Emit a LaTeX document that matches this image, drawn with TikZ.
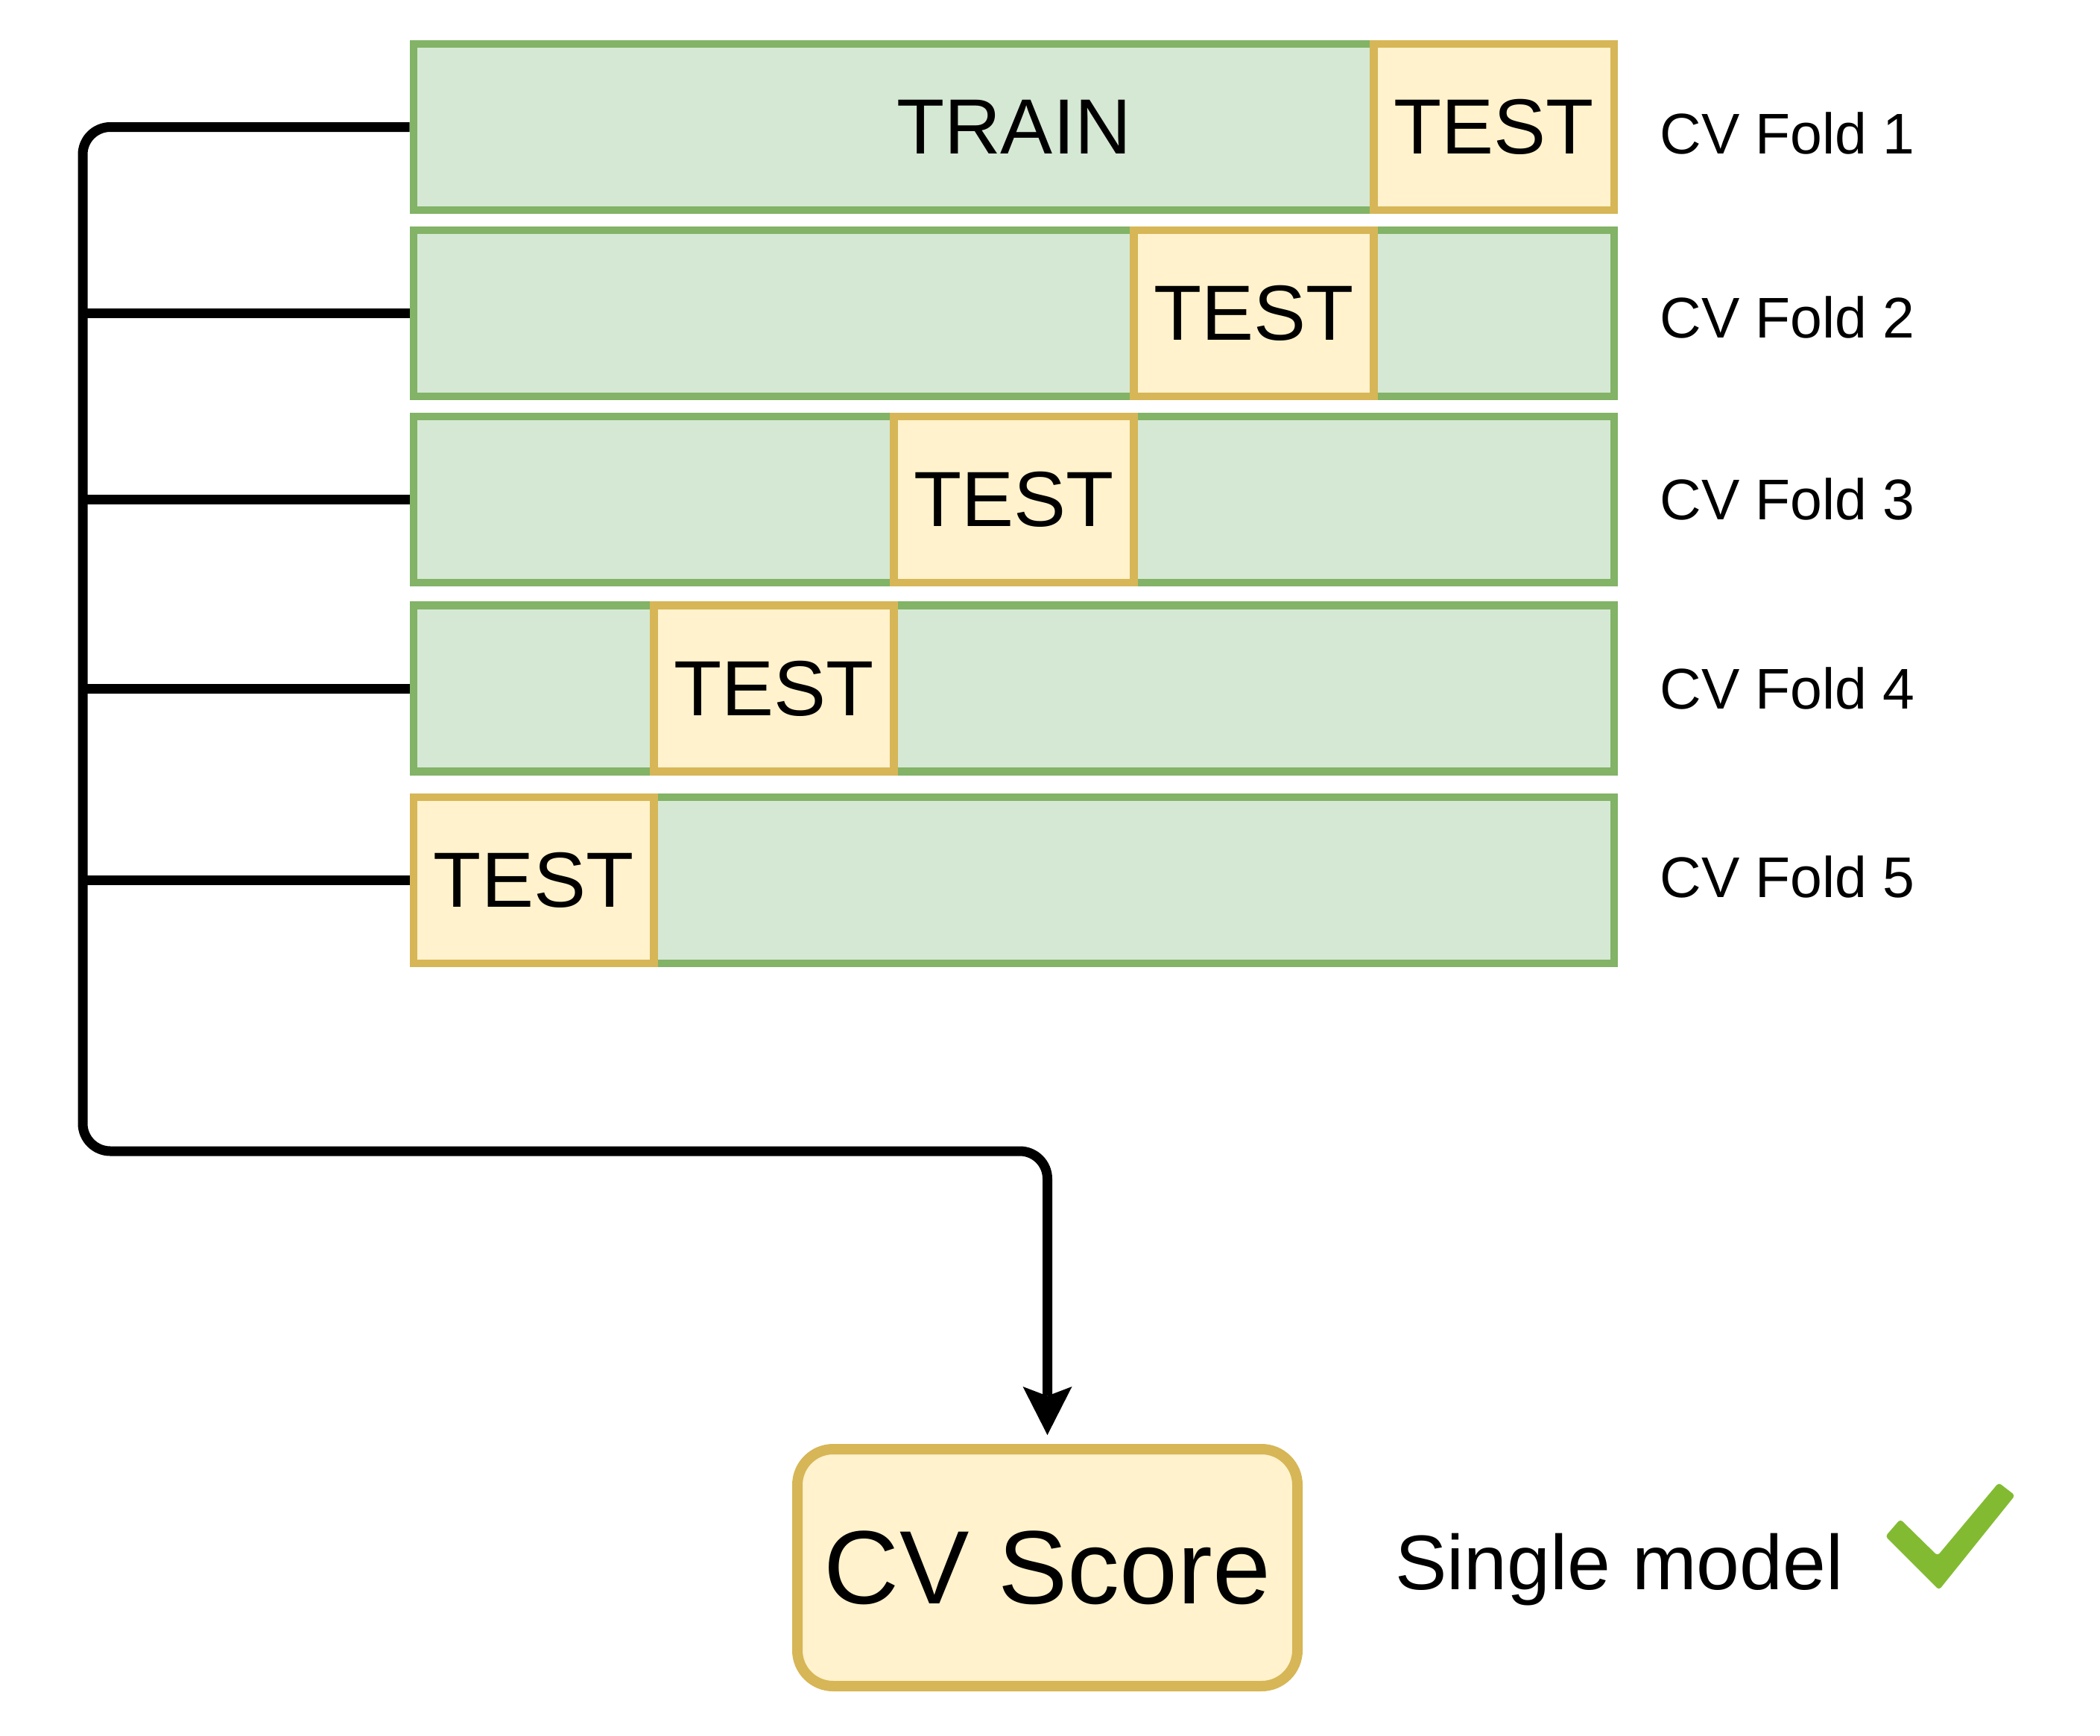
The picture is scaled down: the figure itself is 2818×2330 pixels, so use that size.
\documentclass[tikz,border=0pt]{standalone}
\usepackage{fontspec}
\setmainfont{Liberation Sans}
\usetikzlibrary{arrows.meta}
\definecolor{gfill}{HTML}{D5E8D4}
\definecolor{gline}{HTML}{82B366}
\definecolor{yfill}{HTML}{FFF2CC}
\definecolor{yline}{HTML}{D6B656}
\definecolor{checkgreen}{RGB}{130,187,50}
\begin{document}
\begin{tikzpicture}[x=0.5pt,y=-0.5pt,
  rowbox/.style={draw=gline, fill=gfill, line width=5.35pt, minimum width=805.5pt, minimum height=111.5pt, inner sep=0pt, font=\fontsize{52.5}{60}\selectfont},
  testbox/.style={draw=yline, fill=yfill, line width=5.35pt, minimum width=161.1pt, minimum height=111.5pt, inner sep=0pt, font=\fontsize{52.5}{60}\selectfont},
  foldlabel/.style={anchor=base west, inner sep=0pt, font=\fontsize{38.5}{46}\selectfont},
  conn/.style={line width=6.5pt, draw=black},
]
\useasboundingbox (0,0) rectangle (2818,2330);

% rows
\node[rowbox] (row1) at (1360.5,170.5) {TRAIN};
\node[rowbox] (row2) at (1360.5,420.5) {};
\node[rowbox] (row3) at (1360.5,670.5) {};
\node[rowbox] (row4) at (1360.5,924) {};
\node[rowbox] (row5) at (1360.5,1181.5) {};

% test blocks
\node[testbox] (test1) at (2004.9,170.5) {TEST};
\node[testbox] (test2) at (1682.7,420.5) {TEST};
\node[testbox] (test3) at (1360.5,670.5) {TEST};
\node[testbox] (test4) at (1038.3,924) {TEST};
\node[testbox] (test5) at (716.1,1181.5) {TEST};

% fold labels
\node[foldlabel] (lab1) at (2227,206.5) {CV Fold 1};
\node[foldlabel] (lab2) at (2227,453.5) {CV Fold 2};
\node[foldlabel] (lab3) at (2227,697.5) {CV Fold 3};
\node[foldlabel] (lab4) at (2227,951) {CV Fold 4};
\node[foldlabel] (lab5) at (2227,1204) {CV Fold 5};

% score
\node[draw=yline, fill=yfill, line width=7pt, rounded corners=24pt,
      minimum width=335.5pt, minimum height=159pt, inner sep=0pt,
      font=\fontsize{70}{80}\selectfont] (score) at (1405.5,2104) {CV Score};

\node[anchor=base west, inner sep=0pt, font=\fontsize{52}{60}\selectfont] (single) at (1872,2133) {Single model};

% check mark
\fill[checkgreen, rounded corners=2pt] (2530,2062) -- (2550,2039) -- (2600,2088) -- (2682,1990) -- (2704,2007) -- (2602,2134) -- cycle;

% connectors
\coordinate (vtop) at (111,170.5);
\coordinate (vbot) at (111,1545);
\draw[conn, rounded corners=18.5pt, -{Stealth[length=32.5pt, width=33pt, inset=6.3pt, line width=0pt]}, shorten >=6pt]
  (row1.west) -- (vtop) -- (vbot) -- (vbot -| score.north) -- (score.north);
\foreach \i in {2,...,5} {
  \draw[conn] (row\i.west -| vtop) -- (row\i.west);
}
\end{tikzpicture}
\end{document}
